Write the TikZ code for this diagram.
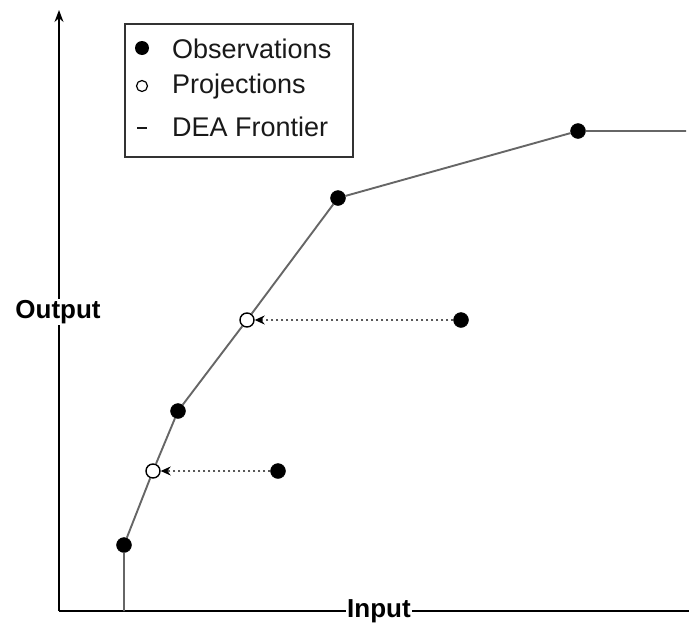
\documentclass[tikz,border=0pt]{standalone}
\usepackage{fontspec}
\setmainfont{Liberation Sans}
\usetikzlibrary{arrows.meta}
\begin{document}
\begin{tikzpicture}[x=1pt,y=-1pt,
  obs/.style={circle,fill=black,draw=black,inner sep=0pt,minimum size=15pt},
  proj/.style={circle,fill=white,draw=black,line width=1.4pt,inner sep=0pt,minimum size=14pt},
  frontier/.style={draw=black!60,line width=1.9pt},
  axis/.style={draw=black,line width=1.5pt},
  proarrow/.style={draw=black!65,line width=1.2pt,dash pattern=on 2pt off 3pt,-{Stealth[length=10pt,width=9pt,black]}},
  axlabel/.style={font=\fontsize{26}{30}\selectfont\bfseries,fill=white,inner sep=1pt},
  legtext/.style={font=\fontsize{27}{30}\selectfont,text=black!90,anchor=west,inner sep=0pt}]
\useasboundingbox (0,0) rectangle (689,627);
% axes
\coordinate (origin) at (59,611);
\coordinate (ytop) at (59,10);
\coordinate (xend) at (689,611);
\draw[axis,-{Stealth[length=12pt,width=9pt]}] (origin) -- (ytop);
\draw[axis] (origin) -- (xend);
\node[axlabel] (output) at (58,312) {Output};
\node[axlabel] (input) at (379,611) {Input};
% frontier points
\coordinate (f0) at (124,611);
\node[obs] (o1) at (124,545) {};
\node[proj] (p1) at (153,471) {};
\node[obs] (o2) at (178,411) {};
\node[proj] (p2) at (247,320) {};
\node[obs] (o3) at (338,198) {};
\node[obs] (o4) at (578,131) {};
\coordinate (fend) at (686,131);
\draw[frontier] (f0) -- (o1) -- (p1) -- (o2) -- (p2) -- (o3) -- (o4) -- (fend);
% inefficient observations
\node[obs] (o5) at (461,320) {};
\node[obs] (o6) at (278,471) {};
\draw[proarrow] (o5) -- (p2);
\draw[proarrow] (o6) -- (p1);
% legend
\node[draw=black!80,line width=1.5pt,minimum width=228pt,minimum height=133pt,anchor=north west] (legend) at (124,23) {};
\node[circle,fill=black,inner sep=0pt,minimum size=14pt] (ls1) at (142,48) {};
\node[circle,draw=black,line width=1.2pt,fill=white,inner sep=0pt,minimum size=11pt] (ls2) at (142,86) {};
\coordinate (ld1) at (137,128);
\coordinate (ld2) at (147,128);
\draw[black!90,line width=1.3pt] (ld1) -- (ld2);
\node[legtext] (lt1) at (172,49) {Observations};
\node[legtext] (lt2) at (172,87) {Projections};
\node[legtext] (lt3) at (172,127) {DEA Frontier};
\end{tikzpicture}
\end{document}
